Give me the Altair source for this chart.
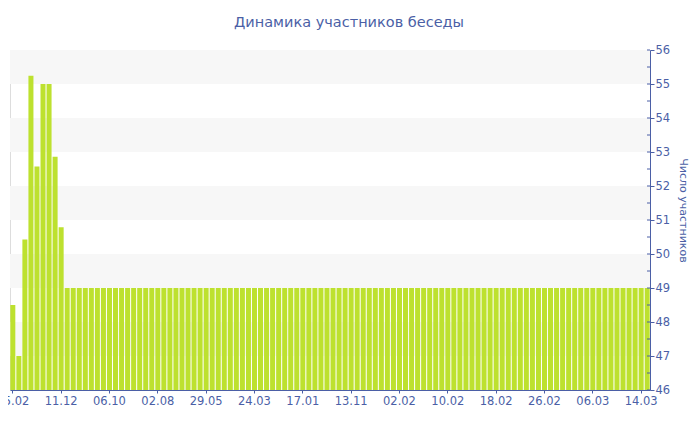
import altair as alt
import pandas as pd

# ---- data ----
first_values = [48.5, 47.0, 50.43, 55.24, 52.57, 55.0, 55.0, 52.86, 50.79]
flat_values = [
    49, 49, 49, 49, 49, 49, 49, 49, 49, 49, 49, 49, 49, 49, 49, 49,
    49, 49, 49, 49, 49, 49, 49, 49, 49, 49, 49, 49, 49, 49, 49, 49,
    49, 49, 49, 49, 49, 49, 49, 49, 49, 49, 49, 49, 49, 49, 49, 49,
    49, 49, 49, 49, 49, 49, 49, 49, 49, 49, 49, 49, 49, 49, 49, 49,
    49, 49, 49, 49, 49, 49, 49, 49, 49, 49, 49, 49, 49, 49, 49, 49,
    49, 49, 49, 49, 49, 49, 49, 49, 49, 49, 49, 49, 49, 49, 49, 49,
    49,
]
values = first_values + flat_values
tick_labels = ["15.02", "11.12", "06.10", "02.08", "29.05", "24.03", "17.01",
               "13.11", "02.02", "10.02", "18.02", "26.02", "06.03", "14.03"]
tick_every = 8
band_lo = [47, 49, 51, 53, 55]
band_hi = [48, 50, 52, 54, 56]
minor_ticks = [46, 46.5, 47, 47.5, 48, 48.5, 49, 49.5, 50, 50.5, 51, 51.5,
               52, 52.5, 53, 53.5, 54, 54.5, 55, 55.5, 56]
y_ticks = [46, 47, 48, 49, 50, 51, 52, 53, 54, 55, 56]

BLUE = "#4b5fa6"
GREEN = "#bde12f"
FONT = "DejaVu Sans"

df = pd.DataFrame({"i": list(range(len(values))), "v": values})
bands = pd.DataFrame({"lo": band_lo, "hi": band_hi})
minor = pd.DataFrame({"m": minor_ticks})

label_arr = "[" + ",".join("'%s'" % s for s in tick_labels) + "]"
ydom = alt.Scale(domain=[46, 56], nice=False, zero=False)
yaxis = alt.Axis(orient="right", title="Число участников",
                 values=y_ticks, grid=False,
                 labelFont=FONT, labelFontSize=11.5, labelColor=BLUE,
                 titleFont=FONT, titleFontSize=11, titleColor=BLUE,
                 titleFontWeight="normal", titlePadding=8, titleY=160,
                 domainColor=BLUE, tickColor=BLUE, tickSize=4,
                 labelPadding=1, labelBaseline="middle")

band_layer = alt.Chart(bands).mark_rect(color="#f7f7f7", strokeWidth=0).encode(
    x=alt.value(0), x2=alt.value(640),
    y=alt.Y("lo:Q", scale=ydom, axis=yaxis), y2="hi:Q",
)

bars = alt.Chart(df).mark_bar(color=GREEN, clip=True).encode(
    x=alt.X("i:O",
            scale=alt.Scale(paddingInner=0.17, paddingOuter=0.05),
            axis=alt.Axis(title=None,
                          values=list(range(0, len(values), tick_every)),
                          labelExpr=label_arr + "[datum.value/%d]" % tick_every,
                          labelAngle=0, labelOverlap=False,
                          labelFont=FONT, labelFontSize=11.5, labelColor=BLUE,
                          domainColor=BLUE, tickColor=BLUE, tickSize=3,
                          labelPadding=2)),
    y=alt.Y("v:Q", scale=ydom, axis=yaxis),
)

minor_layer = alt.Chart(minor).mark_rule(color=BLUE, strokeWidth=1).encode(
    x=alt.value(637), x2=alt.value(640),
    y=alt.Y("m:Q", scale=ydom, axis=yaxis),
)

chart = alt.layer(band_layer, bars, minor_layer).properties(
    width=640, height=340,
    title=alt.TitleParams("Динамика участников беседы", font=FONT,
                          fontSize=14.5, fontWeight="normal", color=BLUE,
                          anchor="middle", dx=19, offset=14),
    padding={"left": 2, "top": 42, "right": 42, "bottom": 32},
    autosize=alt.AutoSizeParams(type="none"),
).configure_view(stroke=None).configure(background="white")

chart.save("out.html", embed_options={"renderer": "svg", "actions": False})
